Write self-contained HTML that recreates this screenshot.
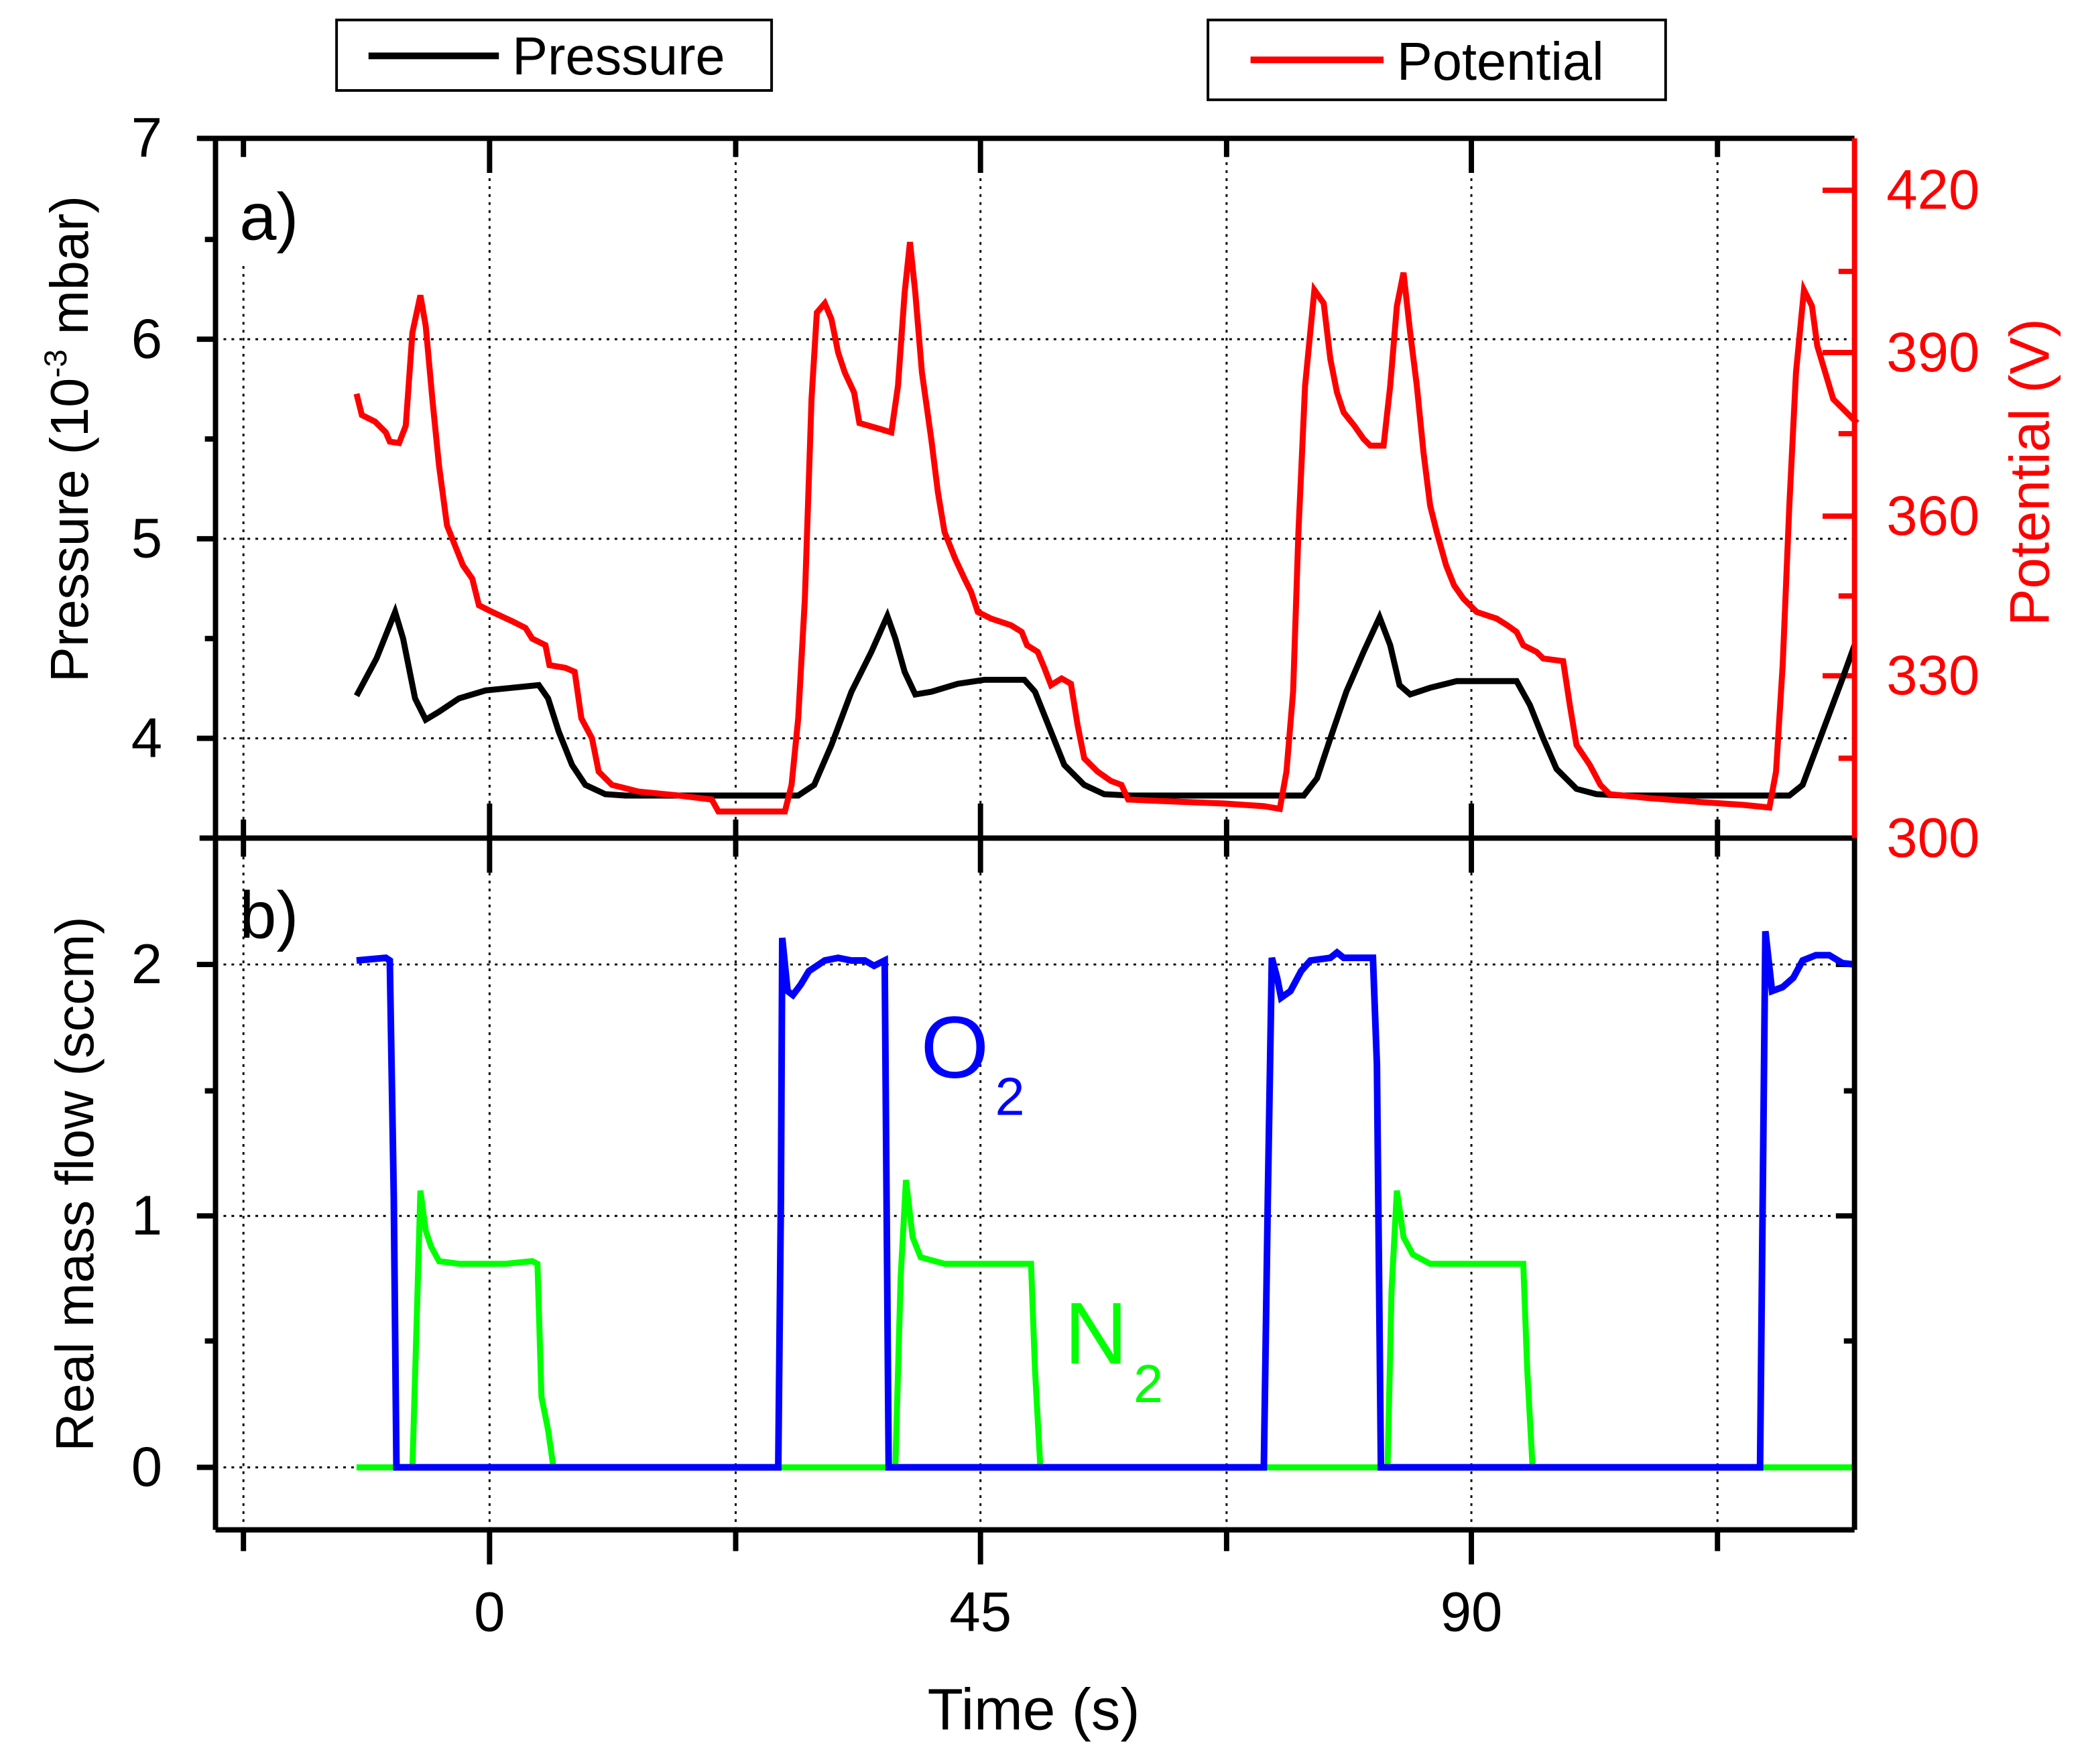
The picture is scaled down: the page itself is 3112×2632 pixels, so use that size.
<!DOCTYPE html>
<html><head><meta charset="utf-8"><style>html,body{margin:0;padding:0;background:#fff}svg{display:block}</style></head>
<body>
<svg width="3112" height="2632" viewBox="0 0 1568 1326" preserveAspectRatio="none" xmlns="http://www.w3.org/2000/svg" font-family="Liberation Sans, Arial, sans-serif">
<rect width="1568" height="1326" fill="#fff"/>
<g stroke="#000" stroke-width="1.5" stroke-dasharray="2,4" fill="none">
<path d="M183 200V1150M368 104V1150M553 104V1150M737 104V1150M922 104V1150M1106 104V1150M1291 104V1150"/>
<path d="M162 255H1394M162 405H1394M162 555H1394M162 725H1394M162 914H1394M162 1103H1394"/>
</g>
<g stroke="#000" stroke-width="4">
<path d="M368 104v26M737 104v26M1106 104v26M183 104v14M553 104v14M922 104v14M1291 104v14"/>
<path d="M368 630v-26M737 630v-26M1106 630v-26M183 630v-14M553 630v-14M922 630v-14M1291 630v-14"/>
<path d="M368 630v26M737 630v26M1106 630v26M183 630v14M553 630v14M922 630v14M1291 630v14"/>
<path d="M368 1150v26M737 1150v26M1106 1150v26M183 1150v16M553 1150v16M922 1150v16M1291 1150v16"/>
<path d="M162 104h-14M162 255h-14M162 405h-14M162 555h-14M162 180h-8M162 330h-8M162 480h-8"/>
<path d="M162 725h-14M162 914h-14M162 1103h-14M162 820h-8M162 1008h-8"/>
<path d="M1394 725h-14M1394 914h-14M1394 1103h-14M1394 820h-8M1394 1008h-8"/>
</g>
<g stroke="#f00" stroke-width="4">
<path d="M1394 143h-24M1394 265h-24M1394 388h-24M1394 508h-24M1394 630h-24M1394 204h-12M1394 326h-12M1394 448h-12M1394 570h-12"/>
</g>
<polyline fill="none" stroke="#0f0" stroke-width="4.5" points="268,1103 310,1103 313,1000 316,895 320,925 324,937 330,948 345,950 360,950 380,950 400,948 404,950 407,1050 412,1075 416,1103 673,1103 677,960 681,887 686,930 692,945 710,950 740,950 775,950 778,1030 782,1103 1043,1103 1046,970 1050,895 1055,930 1062,943 1075,950 1100,950 1145,950 1148,1030 1152,1103 1394,1103"/>
<polyline fill="none" stroke="#00f" stroke-width="5" points="268,722 290,720 293,722 296,900 298,1103 585,1103 587,900 588,705 592,745 596,748 602,740 608,730 620,722 630,720 640,722 650,722 657,726 665,722 668,1103 950,1103 953,900 956,720 960,735 963,750 970,745 978,730 985,722 1000,720 1005,716 1010,720 1032,720 1035,800 1038,1103 1323,1103 1325,900 1327,700 1332,745 1340,742 1348,735 1355,722 1365,718 1375,718 1385,724 1394,725"/>
<polyline fill="none" stroke="#000" stroke-width="4.5" points="268,523 283,495 297,460 303,480 312,525 320,541 330,535 345,525 365,519 385,517 405,515 412,525 420,550 430,575 440,590 455,597 470,598 540,598 600,598 612,590 625,560 640,520 655,490 667,463 673,480 680,505 688,522 700,520 720,514 740,511 770,511 778,520 790,550 800,575 815,590 830,597 850,598 980,598 990,585 1000,555 1012,520 1025,490 1037,464 1045,485 1052,515 1060,522 1075,517 1095,512 1140,512 1150,530 1160,555 1170,578 1185,593 1200,597 1220,598 1345,598 1355,590 1370,550 1385,510 1394,485"/>
<polyline fill="none" stroke="#f00" stroke-width="4.5" points="268,296 272,312 282,317 290,325 293,332 300,333 305,320 310,250 316,222 320,245 325,300 330,350 336,395 342,410 348,425 355,435 360,455 370,460 385,467 395,472 400,480 410,485 413,500 425,502 432,505 437,540 445,555 450,580 460,590 480,595 510,598 535,601 540,610 560,610 590,610 595,590 600,540 605,450 610,300 614,235 620,228 625,240 630,265 635,280 642,295 646,318 660,322 670,325 675,290 680,220 684,182 688,220 693,280 700,330 705,370 710,400 718,420 725,435 730,445 735,460 745,465 760,470 768,475 772,485 780,490 785,502 790,515 798,510 805,514 810,545 815,570 825,580 835,587 843,590 848,601 870,602 920,604 950,606 962,608 967,580 972,520 976,400 981,290 988,218 995,228 1000,270 1005,295 1010,310 1018,320 1025,330 1030,335 1040,335 1045,290 1050,230 1055,205 1060,250 1065,290 1070,340 1075,380 1080,400 1087,425 1093,440 1100,450 1110,460 1125,465 1133,470 1140,475 1145,485 1155,490 1160,495 1175,497 1180,530 1185,560 1195,575 1203,590 1210,597 1240,600 1280,603 1310,605 1330,607 1335,580 1340,500 1345,380 1350,280 1356,218 1362,230 1366,260 1372,280 1378,300 1385,307 1390,312 1396,318"/>
<g stroke="#000" stroke-width="4" fill="none">
<path d="M150 104H1394M162 104V1150M150 630H1394M162 1150H1394M1394 630V1150"/>
</g>
<path d="M1394 104V630" stroke="#f00" stroke-width="4"/>
<g font-size="42" text-anchor="end" fill="#000">
<text x="122" y="118">7</text><text x="122" y="269">6</text><text x="122" y="419">5</text><text x="122" y="569">4</text>
<text x="122" y="739">2</text><text x="122" y="928">1</text><text x="122" y="1117">0</text>
</g>
<g font-size="42" text-anchor="middle">
<text x="368" y="1226">0</text><text x="737" y="1226">45</text><text x="1106" y="1226">90</text>
<text x="777" y="1300" font-size="44">Time (s)</text>
</g>
<g font-size="42" fill="#f00">
<text x="1418" y="157">420</text><text x="1418" y="279">390</text><text x="1418" y="402">360</text><text x="1418" y="522">330</text><text x="1418" y="644">300</text>
</g>
<text transform="translate(66,330) rotate(-90)" font-size="40" text-anchor="middle">Pressure (10<tspan font-size="24" dy="-16">-3</tspan><tspan dy="16"> mbar)</tspan></text>
<text transform="translate(70,890) rotate(-90)" font-size="40" text-anchor="middle">Real mass flow (sccm)</text>
<text transform="translate(1540,355) rotate(-90)" font-size="42" text-anchor="middle" fill="#f00">Potential (V)</text>
<text x="180" y="180" font-size="50">a)</text>
<text x="180" y="705" font-size="50">b)</text>
<text x="692" y="810" font-size="66" fill="#00f">O</text><text x="748" y="838" font-size="40" fill="#00f">2</text>
<text x="800" y="1025" font-size="66" fill="#0f0">N</text><text x="852" y="1054" font-size="40" fill="#0f0">2</text>
<rect x="253" y="15" width="327" height="53" fill="#fff" stroke="#000" stroke-width="2"/>
<path d="M277 42H375" stroke="#000" stroke-width="5"/>
<text x="385" y="56" font-size="40">Pressure</text>
<rect x="908" y="15" width="344" height="60" fill="#fff" stroke="#000" stroke-width="2"/>
<path d="M940 45H1040" stroke="#f00" stroke-width="5"/>
<text x="1050" y="60" font-size="40">Potential</text>
</svg>
</body></html>
